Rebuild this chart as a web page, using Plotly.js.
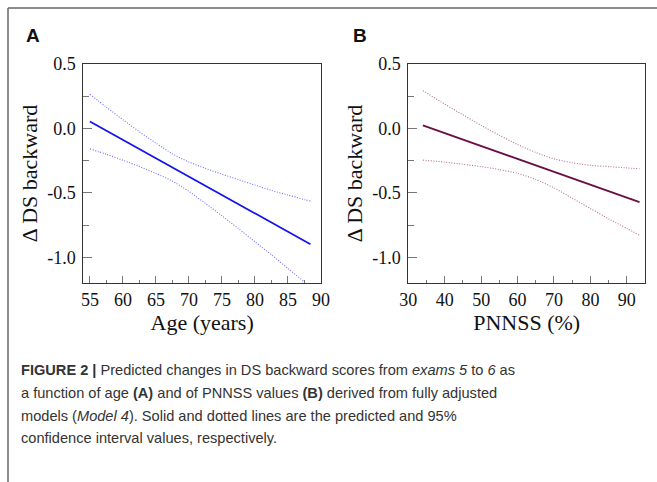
<!DOCTYPE html>
<html>
<head>
<meta charset="utf-8">
<script src="https://cdn.plot.ly/plotly-3.0.1.min.js"></script>
<style>html,body{margin:0;padding:0;background:#fff;}#chart{width:657px;height:482px;}</style>
</head>
<body>
<div id="chart"></div>
<script>
// Panel A: age
const ageX     = [55, 57.5, 60, 62.5, 65, 67.5, 70, 72.5, 75, 77.5, 80, 82.5, 85, 87.5, 88.4];
const ageFit   = [0.053, -0.018, -0.090, -0.161, -0.232, -0.303, -0.375, -0.446, -0.517, -0.588, -0.660, -0.731, -0.802, -0.873, -0.899];
const ageUpper = [0.265, 0.165, 0.067, -0.026, -0.114, -0.197, -0.261, -0.310, -0.355, -0.398, -0.440, -0.481, -0.517, -0.553, -0.564];
const ageLower = [-0.159, -0.201, -0.247, -0.296, -0.350, -0.409, -0.489, -0.582, -0.679, -0.778, -0.880, -0.981, -1.087, -1.193, -1.234];
// Panel B: PNNSS
const pnX     = [34, 40, 45, 50, 55, 60, 65, 70, 75, 80, 85, 90, 93.5];
const pnFit   = [0.0235, -0.0365, -0.0865, -0.1365, -0.1865, -0.2365, -0.2865, -0.3365, -0.3865, -0.4365, -0.4865, -0.5365, -0.5715];
const pnUpper = [0.2935, 0.1885, 0.1055, 0.0235, -0.0535, -0.1245, -0.1865, -0.2365, -0.2665, -0.2865, -0.2965, -0.3065, -0.3135];
const pnLower = [-0.2465, -0.2615, -0.2785, -0.2965, -0.3195, -0.3485, -0.3965, -0.4615, -0.5415, -0.6215, -0.7015, -0.7765, -0.8295];
// ticks and labels
const yTickVals = [-1.0, -0.5, 0.0, 0.5];
const yTickText = ["-1.0", "-0.5", "0.0", "0.5"];
const ageTickVals = [55, 60, 65, 70, 75, 80, 85, 90];
const pnTickVals = [30, 40, 50, 60, 70, 80, 90];
const yTitle = "\u0394 DS backward";
const xTitleA = "Age (years)";
const xTitleB = "PNNSS (%)";
const captionLines = [
  "<b>FIGURE 2 |</b> Predicted changes in DS backward scores from <i>exams 5</i> to <i>6</i> as",
  "a function of age <b>(A)</b> and of PNNSS values <b>(B)</b> derived from fully adjusted",
  "models (<i>Model 4</i>). Solid and dotted lines are the predicted and 95%",
  "confidence interval values, respectively."
];

const W = 657, H = 482;
const px = v => v / W;
const py = v => 1 - v / H;

const blue = '#1414ee', blueCI = '#6f6fff';
const plum = '#6a0f45', plumCI = '#b5709a';
const dotted = '1px,1.6px';

const traces = [
  {x: ageX, y: ageUpper, mode: 'lines', line: {color: blueCI, width: 1.1, dash: dotted, shape: 'spline', smoothing: 0.8}, xaxis: 'x', yaxis: 'y'},
  {x: ageX, y: ageLower, mode: 'lines', line: {color: blueCI, width: 1.1, dash: dotted, shape: 'spline', smoothing: 0.8}, xaxis: 'x', yaxis: 'y'},
  {x: ageX, y: ageFit, mode: 'lines', line: {color: blue, width: 1.8}, xaxis: 'x', yaxis: 'y'},
  {x: pnX, y: pnUpper, mode: 'lines', line: {color: plumCI, width: 1.1, dash: dotted, shape: 'spline', smoothing: 0.8}, xaxis: 'x2', yaxis: 'y2'},
  {x: pnX, y: pnLower, mode: 'lines', line: {color: plumCI, width: 1.1, dash: dotted, shape: 'spline', smoothing: 0.8}, xaxis: 'x2', yaxis: 'y2'},
  {x: pnX, y: pnFit, mode: 'lines', line: {color: plum, width: 1.8}, xaxis: 'x2', yaxis: 'y2'}
];

const tickFont = {family: 'Liberation Serif, Times New Roman, serif', size: 18, color: '#111'};
const titleFont = {family: 'Liberation Serif, Times New Roman, serif', size: 22, color: '#111'};

function xAxis(domain, range, vals, minorDt, anchor) {
  return {
    domain: domain, range: range, anchor: anchor,
    showline: true, mirror: true, linecolor: '#333', linewidth: 1,
    showgrid: false, zeroline: false,
    ticks: 'inside', ticklen: 7, tickcolor: '#777', tickwidth: 1,
    tickmode: 'array', tickvals: vals, ticktext: vals.map(String),
    minor: {ticks: 'inside', ticklen: 3, tickcolor: '#777', tickmode: 'linear', tick0: vals[0], dtick: minorDt, showgrid: false},
    tickfont: tickFont, automargin: false
  };
}
function yAxis(anchor) {
  return {
    domain: [py(283), py(64)], range: [-1.2, 0.5], anchor: anchor,
    showline: true, mirror: true, linecolor: '#333', linewidth: 1,
    showgrid: false, zeroline: false,
    ticks: 'inside', ticklen: 9, tickcolor: '#777', tickwidth: 1,
    tickmode: 'array', tickvals: yTickVals, ticktext: yTickText,
    minor: {ticks: 'inside', ticklen: 6, tickcolor: '#777', tickmode: 'linear', tick0: 0, dtick: 0.25, showgrid: false},
    tickfont: tickFont, automargin: false, ticklabelstandoff: 3,
    title: {text: yTitle, font: titleFont, standoff: 3}
  };
}

const xa = xAxis([px(83.3), px(321)], [54, 90], ageTickVals, 2.5, 'y');
xa.title = {text: xTitleA, font: titleFont, standoff: 0};
const xb = xAxis([px(408.3), px(645)], [30, 95], pnTickVals, 5, 'y2');
xb.title = {text: xTitleB, font: titleFont, standoff: 0};

const annotations = [
  {text: '<b>A</b>', x: px(24), y: py(36), xref: 'paper', yref: 'paper', xanchor: 'left', yanchor: 'middle', showarrow: false,
   font: {family: 'Liberation Sans, Arial, sans-serif', size: 19, color: '#111'}},
  {text: '<b>B</b>', x: px(351), y: py(36), xref: 'paper', yref: 'paper', xanchor: 'left', yanchor: 'middle', showarrow: false,
   font: {family: 'Liberation Sans, Arial, sans-serif', size: 19, color: '#111'}}
];
const lineY = [370, 393, 416, 438];
captionLines.forEach((t, i) => {
  annotations.push({text: t, x: px(19), y: py(lineY[i]), xref: 'paper', yref: 'paper', xanchor: 'left', yanchor: 'middle',
    showarrow: false, align: 'left', font: {family: 'Liberation Sans, Arial, sans-serif', size: 14.6, color: '#333'}});
});

const layout = {
  width: W, height: H,
  margin: {l: 0, r: 0, t: 0, b: 0},
  paper_bgcolor: '#fff', plot_bgcolor: '#fff',
  showlegend: false,
  xaxis: xa, yaxis: yAxis('x'),
  xaxis2: xb, yaxis2: yAxis('x2'),
  annotations: annotations,
  shapes: [
    {type: 'line', xref: 'paper', yref: 'paper', x0: px(8), x1: 1, y0: py(8), y1: py(8), line: {color: '#666', width: 1.5}},
    {type: 'line', xref: 'paper', yref: 'paper', x0: px(8), x1: px(8), y0: py(8), y1: 0, line: {color: '#666', width: 1.5}}
  ]
};

Plotly.newPlot('chart', traces, layout, {staticPlot: true, displayModeBar: false});
</script>
</body>
</html>
